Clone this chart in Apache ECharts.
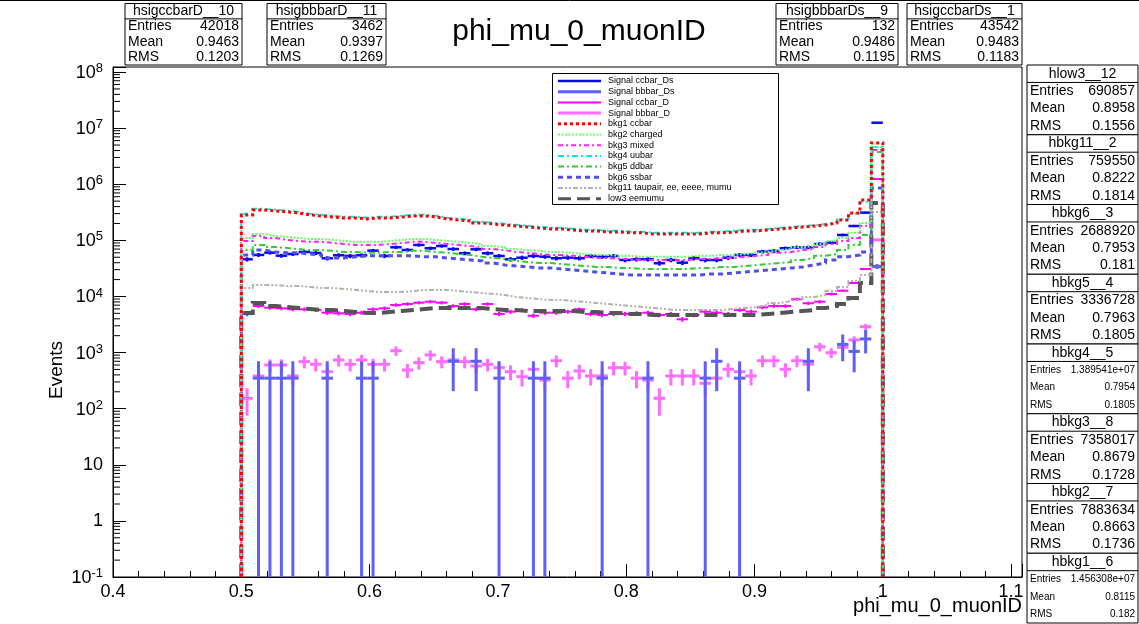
<!DOCTYPE html>
<html><head><meta charset="utf-8">
<script src="https://cdn.jsdelivr.net/npm/echarts@6/dist/echarts.min.js"></script>
<style>html,body{margin:0;padding:0;background:#fff;}#c{width:1139px;height:624px;}</style>
</head><body><div id="c"></div>
<script>
// ---------------- data ----------------
const binLow = 0.5, binHigh = 1.0, nBins = 56;
const xMin = 0.4, xMax = 1.1085, yMin = 0.1, yMax = 1.23e8;

const sigCcbarDs = [46000,55000,60400,53300,57100,62100,59600,48000,54200,52700,54200,65500,52700,75300,67400,82800,72300,79400,70100,58900,69300,58900,52700,46000,49100,52700,51200,48000,49100,48000,52700,51200,52700,44700,46000,46000,39100,44700,40000,48000,44700,44700,49100,55000,55000,62800,64700,72300,75300,75300,86300,91000,124700,180300,311900,12500000];
const sigCcbarDsErr = [4100,4500,4700,4400,4600,4800,4700,4200,4500,4400,4500,4900,4400,5300,5000,5500,5200,5400,5100,4700,5100,4700,4400,4100,4300,4400,4300,4200,4300,4200,4400,4300,4400,4100,4100,4100,3800,4100,3800,4200,4100,4100,4300,4500,4500,4800,4900,5200,5300,5300,5600,5800,6800,8100,10700,67800];

const sigBbbarDs = [null,350,350,350,350,null,null,350,null,null,350,350,null,null,null,null,null,null,700,null,700,null,350,null,null,350,350,null,null,null,null,350,null,null,null,350,null,null,null,null,350,700,null,350,null,null,null,null,null,700,null,null,1400,1050,1750,34300];
const sigBbbarDsErr = [null,350,350,350,350,null,null,350,null,null,350,350,null,null,null,null,null,null,495,null,495,null,350,null,null,350,350,null,null,null,null,350,null,null,null,350,null,null,null,null,350,495,null,350,null,null,null,null,null,495,null,null,700,606,783,3465];

const sigCcbarD = [4880,6760,6310,6150,5910,5910,5740,5140,5010,4880,5140,5910,6150,7050,7350,7740,8070,7740,6760,7350,5910,7350,4880,5360,5740,4550,5140,5140,5360,5910,4880,4680,4880,4880,5010,5140,4680,4880,3920,4680,5360,5140,4880,5740,5360,6410,6760,6760,8910,7570,8070,11070,12680,17400,30900,1240000];
const sigCcbarDErr = [430,510,490,480,470,470,470,440,440,430,440,470,480,520,530,540,550,540,510,530,470,530,430,450,470,420,440,440,450,470,430,420,430,430,440,440,420,430,390,420,450,440,430,470,450,490,510,510,580,540,550,650,690,810,1080,6870];

const sigBbbarD = [153,383,601,601,383,689,618,456,738,618,738,618,618,1081,490,661,906,689,738,689,577,618,538,456,372,504,324,716,350,470,383,383,538,538,350,324,153,383,383,383,283,350,504,456,383,716,716,504,716,620,1270,995,1240,1680,2890,102000];
const sigBbbarDErr = [78,124,155,155,124,166,157,135,172,157,172,157,157,208,140,163,190,166,172,166,152,157,147,135,122,142,114,169,118,137,124,124,147,147,118,114,78,124,124,124,106,118,142,135,124,169,169,142,169,157,225,200,223,259,340,2020];

const bkg1 = [284000,348000,334000,321000,308000,284000,272000,261000,251000,251000,241000,251000,251000,261000,272000,272000,261000,241000,231000,222000,204000,196000,188000,180000,173000,166000,160000,160000,153000,147000,147000,141000,141000,136000,136000,130000,130000,130000,130000,130000,136000,136000,141000,147000,147000,153000,160000,166000,173000,180000,188000,204000,231000,308000,525000,5450000];
const bkg2 = [110000,130000,120000,115000,110000,106000,106000,102000,97500,94000,94000,94000,97500,102000,106000,106000,102000,97500,94000,90000,86000,79000,76000,70000,67000,65000,62000,62000,60000,57000,55000,55000,53000,53000,51000,51000,51000,51000,51000,53000,53000,55000,55000,57000,60000,62000,67000,70000,76000,79000,86000,97500,110000,136000,204000,4620000];
const bkg3 = [97500,120000,110000,102000,97500,94000,94000,90000,86000,83000,83000,83000,86000,90000,94000,94000,90000,86000,83000,79000,76000,70000,67000,62000,60000,57000,55000,55000,53000,51000,48500,48500,46600,46600,44700,44700,44700,44700,44700,46600,46600,48500,48500,51000,53000,55000,60000,62000,67000,70000,76000,86000,97500,110000,180000,4080000];
const bkg4 = [298000,365000,350000,337000,323000,298000,285000,274000,263000,263000,253000,263000,263000,274000,285000,285000,274000,253000,243000,233000,214000,206000,197000,189000,182000,174000,168000,168000,161000,154000,154000,148000,148000,143000,143000,137000,137000,137000,137000,137000,143000,143000,148000,154000,154000,160000,167000,173000,180000,187000,195000,210000,235000,300000,490000,4600000];
const bkg5 = [67000,83000,76000,73000,70000,67000,67000,65000,62000,62000,60000,60000,62000,62000,65000,65000,62000,60000,57000,55000,51000,48500,46600,43000,41000,39500,39500,37900,36400,34900,33600,33600,32200,32200,30900,30900,30900,30900,30900,32200,32200,33600,33600,34900,36400,37900,39500,41000,44700,48500,53000,57000,67000,83000,125000,3770000];
const bkg6 = [55000,67000,62000,60000,60000,57000,55000,48500,48500,51000,53000,53000,53000,53000,53000,51000,51000,48500,46600,44700,43000,39500,36400,34900,33600,32200,32200,30900,29700,28400,27300,26200,25200,24200,24200,24200,24200,24200,24200,24200,25200,25200,26200,27300,28400,29700,30900,32200,33600,36400,39500,44700,51000,55000,62000,860000];
const bkg11 = [14200,16000,16000,15400,15400,14800,14200,14200,13600,13100,12500,12000,12000,12000,12500,13100,13100,13100,12500,12000,11500,11100,10600,9800,9400,9000,8650,8650,8300,7980,7660,7350,7050,6760,6500,6240,5980,5740,5740,5740,5740,5740,5980,6240,6500,7050,7660,8300,9000,9800,10600,12500,14800,18900,24200,321000];
const low3 = [5080,7660,6760,6500,6240,5980,5740,5740,5500,5300,5080,5080,5300,5500,5740,5980,6240,6240,6240,6240,6240,5980,5740,5740,5500,5500,5500,5500,5500,5300,5300,5080,5080,4880,4880,4680,4680,4680,4680,4680,4680,4680,4680,4680,4680,4880,5080,5300,5500,5740,6240,6760,7350,9400,17400,464000];

const legendLabels = ['Signal ccbar_Ds','Signal bbbar_Ds','Signal ccbar_D','Signal bbbar_D','bkg1 ccbar','bkg2 charged','bkg3 mixed','bkg4 uubar','bkg5 ddbar','bkg6 ssbar','bkg11 taupair, ee, eeee, mumu','low3 eemumu'];

const topStatNames = ['hsigccbarD__10','hsigbbbarD__11','hsigbbbarDs__9','hsigccbarDs__1'];
const topStatEntries = ['42018','3462','132','43542'];
const topStatMean = ['0.9463','0.9397','0.9486','0.9483'];
const topStatRMS = ['0.1203','0.1269','0.1195','0.1183'];

const sideStatNames = ['hlow3__12','hbkg11__2','hbkg6__3','hbkg5__4','hbkg4__5','hbkg3__8','hbkg2__7','hbkg1__6'];
const sideStatEntries = ['690857','759550','2688920','3336728','1.389541e+07','7358017','7883634','1.456308e+07'];
const sideStatMean = ['0.8958','0.8222','0.7953','0.7963','0.7954','0.8679','0.8663','0.8115'];
const sideStatRMS = ['0.1556','0.1814','0.181','0.1805','0.1805','0.1728','0.1736','0.182'];

// ---------------- styles ----------------
const FONT = '"Liberation Sans", Arial, Helvetica, sans-serif';
const styles = {
  sigCcbarDs: {color:'#0a0af0', w:2.5},
  sigBbbarDs: {color:'#6060f8', w:3},
  sigCcbarD:  {color:'#ff00ff', w:2},
  sigBbbarD:  {color:'#ff6cff', w:3},
  bkg1: {color:'#ff0000', w:3, dash:[3,3]},
  bkg2: {color:'#66ff66', w:2, dash:[2,1.5]},
  bkg3: {color:'#ff22ff', w:2, dash:[5,3,2,3]},
  bkg4: {color:'#00e8e8', w:2, dash:[6,3,2,3]},
  bkg5: {color:'#33cc33', w:2, dash:[6,3,2,3]},
  bkg6: {color:'#5050e8', w:3, dash:[5,4]},
  bkg11:{color:'#b8b0a8', w:2, dash:[5,2,2,2,2,2]},
  low3: {color:'#555555', w:4, dash:[13,6]}
};

// ---------------- helpers ----------------
const edges = [];
for (let i = 0; i <= nBins; i++) edges.push(+(binLow + i * (binHigh - binLow) / nBins).toFixed(7));

function stepData(vals) {
  const d = [[edges[0], yMin]];
  vals.forEach((v, i) => { d.push([edges[i], v]); d.push([edges[i + 1], v]); });
  d.push([edges[nBins], yMin]);
  return d;
}
function errData(vals, errs) {
  const d = [];
  vals.forEach((v, i) => { if (v != null) d.push([edges[i], edges[i + 1], v, errs[i]]); });
  return d;
}
function errRender(color, lw) {
  return function (params, api) {
    const x0 = api.value(0), x1 = api.value(1), v = api.value(2), e = api.value(3);
    const a = api.coord([x0, v]), b = api.coord([x1, v]);
    const top = api.coord([x0, Math.min(v + e, yMax)])[1];
    const bot = api.coord([x0, Math.max(v - e, yMin)])[1];
    const xm = (a[0] + b[0]) / 2;
    return {type: 'group', children: [
      {type: 'line', shape: {x1: a[0], y1: a[1], x2: b[0], y2: b[1]}, style: {stroke: color, lineWidth: lw}},
      {type: 'line', shape: {x1: xm, y1: top, x2: xm, y2: bot}, style: {stroke: color, lineWidth: lw}}
    ]};
  };
}
function histSeries(name, vals, st) {
  return {name: name, type: 'line', xAxisIndex: 0, yAxisIndex: 0, data: stepData(vals), symbol: 'none',
    silent: true, animation: false, clip: true,
    lineStyle: {color: st.color, width: st.w, type: st.dash, cap: 'butt', join: 'miter'}};
}
function errSeries(name, vals, errs, st) {
  return {name: name, type: 'custom', xAxisIndex: 0, yAxisIndex: 0, data: errData(vals, errs),
    encode: {x: [0, 1], y: 2}, renderItem: errRender(st.color, st.w), silent: true, animation: false, clip: true};
}

// y minor ticks (2..9 x 10^n)
const yMinorVals = [];
for (let e = -1; e <= 8; e++) for (let m = 2; m <= 9; m++) { const v = m * Math.pow(10, e); if (v < yMax) yMinorVals.push([xMin, v]); }

// ---------------- graphics: stat boxes + legend ----------------
const gfx = [];
function statBox(x, y, w, h, title, ent, mean, rms, titleSize, rowSize) {
  const rh = h / 4;
  gfx.push({type: 'rect', shape: {x: x, y: y, width: w, height: h}, style: {fill: '#fff', stroke: '#000', lineWidth: 1}, z: 10});
  gfx.push({type: 'line', shape: {x1: x, y1: y + rh, x2: x + w, y2: y + rh}, style: {stroke: '#000', lineWidth: 1}, z: 11});
  gfx.push({type: 'text', x: x + w / 2, y: y + rh * 0.5, style: {text: title, font: titleSize + 'px ' + FONT, fill: '#000', textAlign: 'center', textVerticalAlign: 'middle'}, z: 11});
  const labs = ['Entries', 'Mean', 'RMS'], vals = [ent, mean, rms];
  for (let k = 0; k < 3; k++) {
    const cy = y + rh * (k + 1.5);
    gfx.push({type: 'text', x: x + 3, y: cy, style: {text: labs[k], font: rowSize + 'px ' + FONT, fill: '#000', textAlign: 'left', textVerticalAlign: 'middle'}, z: 11});
    gfx.push({type: 'text', x: x + w - 3, y: cy, style: {text: vals[k], font: rowSize + 'px ' + FONT, fill: '#000', textAlign: 'right', textVerticalAlign: 'middle'}, z: 11});
  }
}
const topBoxX = [125, 267, 776, 907], topBoxW = [117, 119, 122, 115];
for (let i = 0; i < 4; i++) statBox(topBoxX[i], 3.5, topBoxW[i], 61.5, topStatNames[i], topStatEntries[i], topStatMean[i], topStatRMS[i], 14, 14);
const sideH = (623 - 65) / 8;
for (let i = 0; i < 8; i++) {
  const small = sideStatEntries[i].length > 8;
  statBox(1027, 65 + i * sideH, 111, sideH, sideStatNames[i], sideStatEntries[i], sideStatMean[i], sideStatRMS[i], 14, small ? 10 : 14);
}

// legend
const legKeys = ['sigCcbarDs','sigBbbarDs','sigCcbarD','sigBbbarD','bkg1','bkg2','bkg3','bkg4','bkg5','bkg6','bkg11','low3'];
gfx.push({type: 'rect', shape: {x: 552.5, y: 73.5, width: 226, height: 131}, style: {fill: '#fff', stroke: '#000', lineWidth: 1}, z: 10});
legKeys.forEach((k, i) => {
  const st = styles[k], cy = 81 + i * 10.7;
  gfx.push({type: 'line', shape: {x1: 558, y1: cy, x2: 601, y2: cy}, style: {stroke: st.color, lineWidth: Math.min(st.w, 3), lineDash: st.dash || null}, z: 11});
  gfx.push({type: 'text', x: 608, y: cy, style: {text: legendLabels[i], font: '9px ' + FONT, fill: '#000', textAlign: 'left', textVerticalAlign: 'middle'}, z: 11});
});
// canvas top border
gfx.push({type: 'line', shape: {x1: 0, y1: 0.5, x2: 1139, y2: 0.5}, style: {stroke: '#000', lineWidth: 1}, z: 12});
// axis titles
gfx.push({type: 'text', x: 1022, y: 606, style: {text: 'phi_mu_0_muonID', font: '20px ' + FONT, fill: '#000', textAlign: 'right', textVerticalAlign: 'middle'}, z: 11});
gfx.push({type: 'text', x: 57, y: 370, rotation: Math.PI / 2, style: {text: 'Events', font: '19px ' + FONT, fill: '#000', textAlign: 'center', textVerticalAlign: 'middle'}, z: 11});

// ---------------- chart ----------------
const chart = echarts.init(document.getElementById('c'), null, {renderer: 'canvas'});
const tickFmt = v => { const r = Math.round(v * 10) / 10; return Math.abs(v - r) < 1e-6 ? String(r) : ''; };
chart.setOption({
  animation: false,
  backgroundColor: '#fff',
  title: {text: 'phi_mu_0_muonID', left: 574, top: 12, textAlign: 'center',
    textStyle: {fontFamily: FONT, fontSize: 30, fontWeight: 'normal', color: '#000'}},
  grid: {left: 113, top: 67, width: 909, height: 510, show: true, borderColor: '#000', borderWidth: 1, backgroundColor: 'transparent'},
  xAxis: [
    {type: 'value', min: xMin, max: xMax, interval: 0.1, position: 'bottom',
      axisLine: {show: true, onZero: false, lineStyle: {color: '#000', width: 1}},
      axisTick: {show: true, inside: true, length: 13, lineStyle: {color: '#000'}},
      minorTick: {show: false}, splitLine: {show: false},
      axisLabel: {show: true, formatter: tickFmt, margin: 6, fontFamily: FONT, fontSize: 18, color: '#000', showMaxLabel: true, showMinLabel: true, hideOverlap: false}},
    {type: 'value', min: xMin, max: xMax, interval: 0.02, position: 'bottom',
      axisLine: {show: false}, axisLabel: {show: false}, splitLine: {show: false},
      axisTick: {show: true, inside: true, length: 6, lineStyle: {color: '#000'}}}
  ],
  yAxis: {type: 'log', logBase: 10, min: yMin, max: yMax,
    axisLine: {show: true, onZero: false, lineStyle: {color: '#000', width: 1}},
    axisTick: {show: true, inside: true, length: 13, lineStyle: {color: '#000'}},
    splitLine: {show: false}, minorTick: {show: false},
    axisLabel: {margin: 10, color: '#000', fontFamily: FONT, fontSize: 18,
      formatter: function (v) {
        const l = Math.log10(v), e = Math.round(l);
        if (Math.abs(l - e) > 1e-6) return '';
        if (e === 0) return '1';
        if (e === 1) return '10';
        return '{b|10}{s|' + e + '}';
      },
      rich: {b: {fontFamily: FONT, fontSize: 18, lineHeight: 20, verticalAlign: 'bottom'},
             s: {fontFamily: FONT, fontSize: 13, lineHeight: 20, verticalAlign: 'top', padding: [0, 0, 6, 0]}}}},
  graphic: gfx,
  series: [
    {name: 'yMinorTicks', type: 'custom', data: yMinorVals, silent: true, animation: false,
      renderItem: function (params, api) {
        const p = api.coord([api.value(0), api.value(1)]);
        return {type: 'line', shape: {x1: p[0], y1: p[1], x2: p[0] + 7, y2: p[1]}, style: {stroke: '#000', lineWidth: 1}};
      }},
    histSeries('low3 eemumu', low3, styles.low3),
    histSeries('bkg11 taupair, ee, eeee, mumu', bkg11, styles.bkg11),
    histSeries('bkg6 ssbar', bkg6, styles.bkg6),
    histSeries('bkg5 ddbar', bkg5, styles.bkg5),
    histSeries('bkg4 uubar', bkg4, styles.bkg4),
    histSeries('bkg3 mixed', bkg3, styles.bkg3),
    histSeries('bkg2 charged', bkg2, styles.bkg2),
    histSeries('bkg1 ccbar', bkg1, styles.bkg1),
    errSeries('Signal bbbar_D', sigBbbarD, sigBbbarDErr, styles.sigBbbarD),
    errSeries('Signal ccbar_D', sigCcbarD, sigCcbarDErr, styles.sigCcbarD),
    errSeries('Signal bbbar_Ds', sigBbbarDs, sigBbbarDsErr, styles.sigBbbarDs),
    errSeries('Signal ccbar_Ds', sigCcbarDs, sigCcbarDsErr, styles.sigCcbarDs)
  ]
});
</script>
</body></html>
